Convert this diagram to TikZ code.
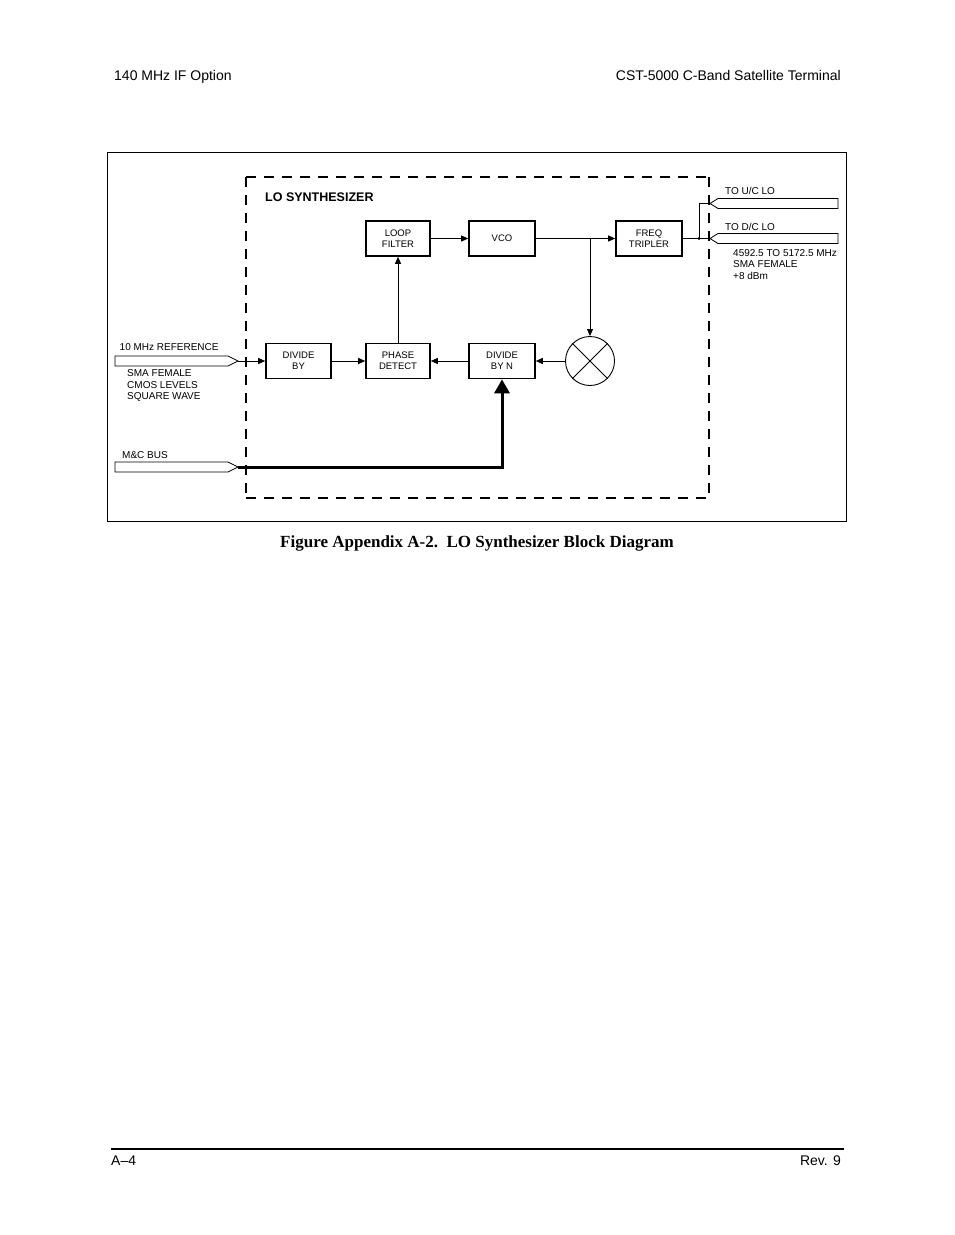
\documentclass[tikz,border=0pt]{standalone}
\usepackage{fontspec}
\setmainfont{Liberation Sans}
\newfontfamily\capfont{Liberation Serif}
\usetikzlibrary{arrows.meta}
\begin{document}
\begin{tikzpicture}[x=1pt,y=-1pt,
  blk/.style={draw,line width=1.6pt,minimum width=64pt,minimum height=35pt,inner sep=0pt,align=center,font=\fontsize{9.5}{11}\selectfont},
  sig/.style={line width=0.9pt,-{Triangle[length=7pt,width=6pt]}},
  wire/.style={line width=0.9pt},
  lbl/.style={font=\fontsize{10}{11.5}\selectfont,inner sep=0pt,align=left},
  hdr/.style={font=\fontsize{14}{16}\selectfont,inner sep=0pt},
  conn/.style={draw,line width=0.8pt,line join=miter},
  dashv/.style={line width=2pt,dash pattern=on 10pt off 8pt},
  dashh/.style={line width=1.3pt,dash pattern=on 10pt off 8pt}
]
\useasboundingbox (0,0) rectangle (954,1235);

% header / footer
\node[hdr,anchor=base west] (hdrL) at (114,80.5) {140 MHz IF Option};
\node[hdr,anchor=base east] (hdrR) at (841,80.5) {CST-5000 C-Band Satellite Terminal};
\draw[line width=2pt] (111,1149) -- (844,1149);
\node[hdr,anchor=base west] (ftL) at (111,1165) {A--4};
\node[hdr,anchor=base east] (ftR) at (841,1165) {Rev. 9};

% frame
\draw[line width=1pt] (107.5,152.5) rectangle (846.5,521.5);

% dashed synthesizer box
\draw[dashh] (246,177) -- (709,177);
\draw[dashh] (246,498) -- (709,498);
\draw[dashv] (246,177) -- (246,498);
\draw[dashv] (709,177) -- (709,498);
\node[inner sep=0pt,anchor=base west,font=\bfseries\fontsize{12.5}{14}\selectfont] (title) at (265,201) {LO SYNTHESIZER};

% blocks
\node[blk] (loop) at (398,238.5) {LOOP\\FILTER};
\node[blk,minimum width=66pt] (vco) at (502,238.5) {VCO};
\node[blk,minimum width=66pt] (trip) at (649,238.5) {FREQ\\TRIPLER};
\node[blk,minimum width=65pt] (divby) at (298.5,361) {DIVIDE\\BY};
\node[blk] (phase) at (398,361) {PHASE\\DETECT};
\node[blk,minimum width=66pt] (divn) at (502,361) {DIVIDE\\BY N};
\node[circle,draw,line width=0.9pt,minimum size=49pt,inner sep=0pt] (mix) at (590,361) {};
\draw[wire] (mix.north west) -- (mix.south east);
\draw[wire] (mix.north east) -- (mix.south west);

% signal paths
\draw[sig] (divby.east) -- (phase.west);
\draw[sig] (phase.north) -- (loop.south);
\draw[sig] (loop.east) -- (vco.west);
\draw[sig] (vco.east) -- (trip.west);
\coordinate (br) at (mix.north |- vco.east);
\draw[sig] (br) -- (mix.north);
\draw[sig] (mix.west) -- (divn.east);
\draw[sig] (divn.west) -- (phase.east);

% 10 MHz reference input
\coordinate (reftip) at (238,361);
\draw[conn] (reftip) -- ++(-10,-5) -- ++(-113,0) -- ++(0,10) -- ++(113,0) -- cycle;
\draw[sig] (reftip) -- (divby.west);
\node[lbl,anchor=base west] (refl) at (119.5,350.7) {10 MHz REFERENCE};
\node[lbl,anchor=base west] (refn) at (127,399.7) {SMA FEMALE\\CMOS LEVELS\\SQUARE WAVE};

% M&C bus
\coordinate (mctip) at (238,467);
\draw[conn] (mctip) -- ++(-10,-5) -- ++(-113,0) -- ++(0,10) -- ++(113,0) -- cycle;
\draw[line width=3pt,line join=miter,-{Triangle[length=14pt,width=15pt]}] (mctip) -| (divn.south);
\node[lbl,anchor=base west] (mcl) at (122,458.3) {M\&C BUS};

% outputs
\coordinate (jn) at (699,238.5);
\coordinate (uctip) at (710,203.5);
\coordinate (dctip) at (710,238.5);
\draw[wire] (trip.east) -- (jn);
\fill (jn) circle (1.6pt);
\draw[wire] (jn) |- (uctip);
\draw[wire] (jn) -- (dctip);
\draw[conn] (uctip) -- ++(8,-5) -- ++(120,0) -- ++(0,10) -- ++(-120,0) -- cycle;
\draw[conn] (dctip) -- ++(8,-5) -- ++(120,0) -- ++(0,10) -- ++(-120,0) -- cycle;
\node[lbl,anchor=base west] (ucl) at (725,194.5) {TO U/C LO};
\node[lbl,anchor=base west] (dcl) at (725,230.5) {TO D/C LO};
\node[lbl,anchor=base west,font=\fontsize{10}{11.5}\selectfont] (outn) at (733,279) {4592.5 TO 5172.5 MHz\\SMA FEMALE\\+8 dBm};

% caption
\node[inner sep=0pt,anchor=base,font=\capfont\bfseries\fontsize{17}{20}\selectfont] (cap) at (477,547) {Figure Appendix A-2.\ \ LO Synthesizer Block Diagram};
\end{tikzpicture}
\end{document}
